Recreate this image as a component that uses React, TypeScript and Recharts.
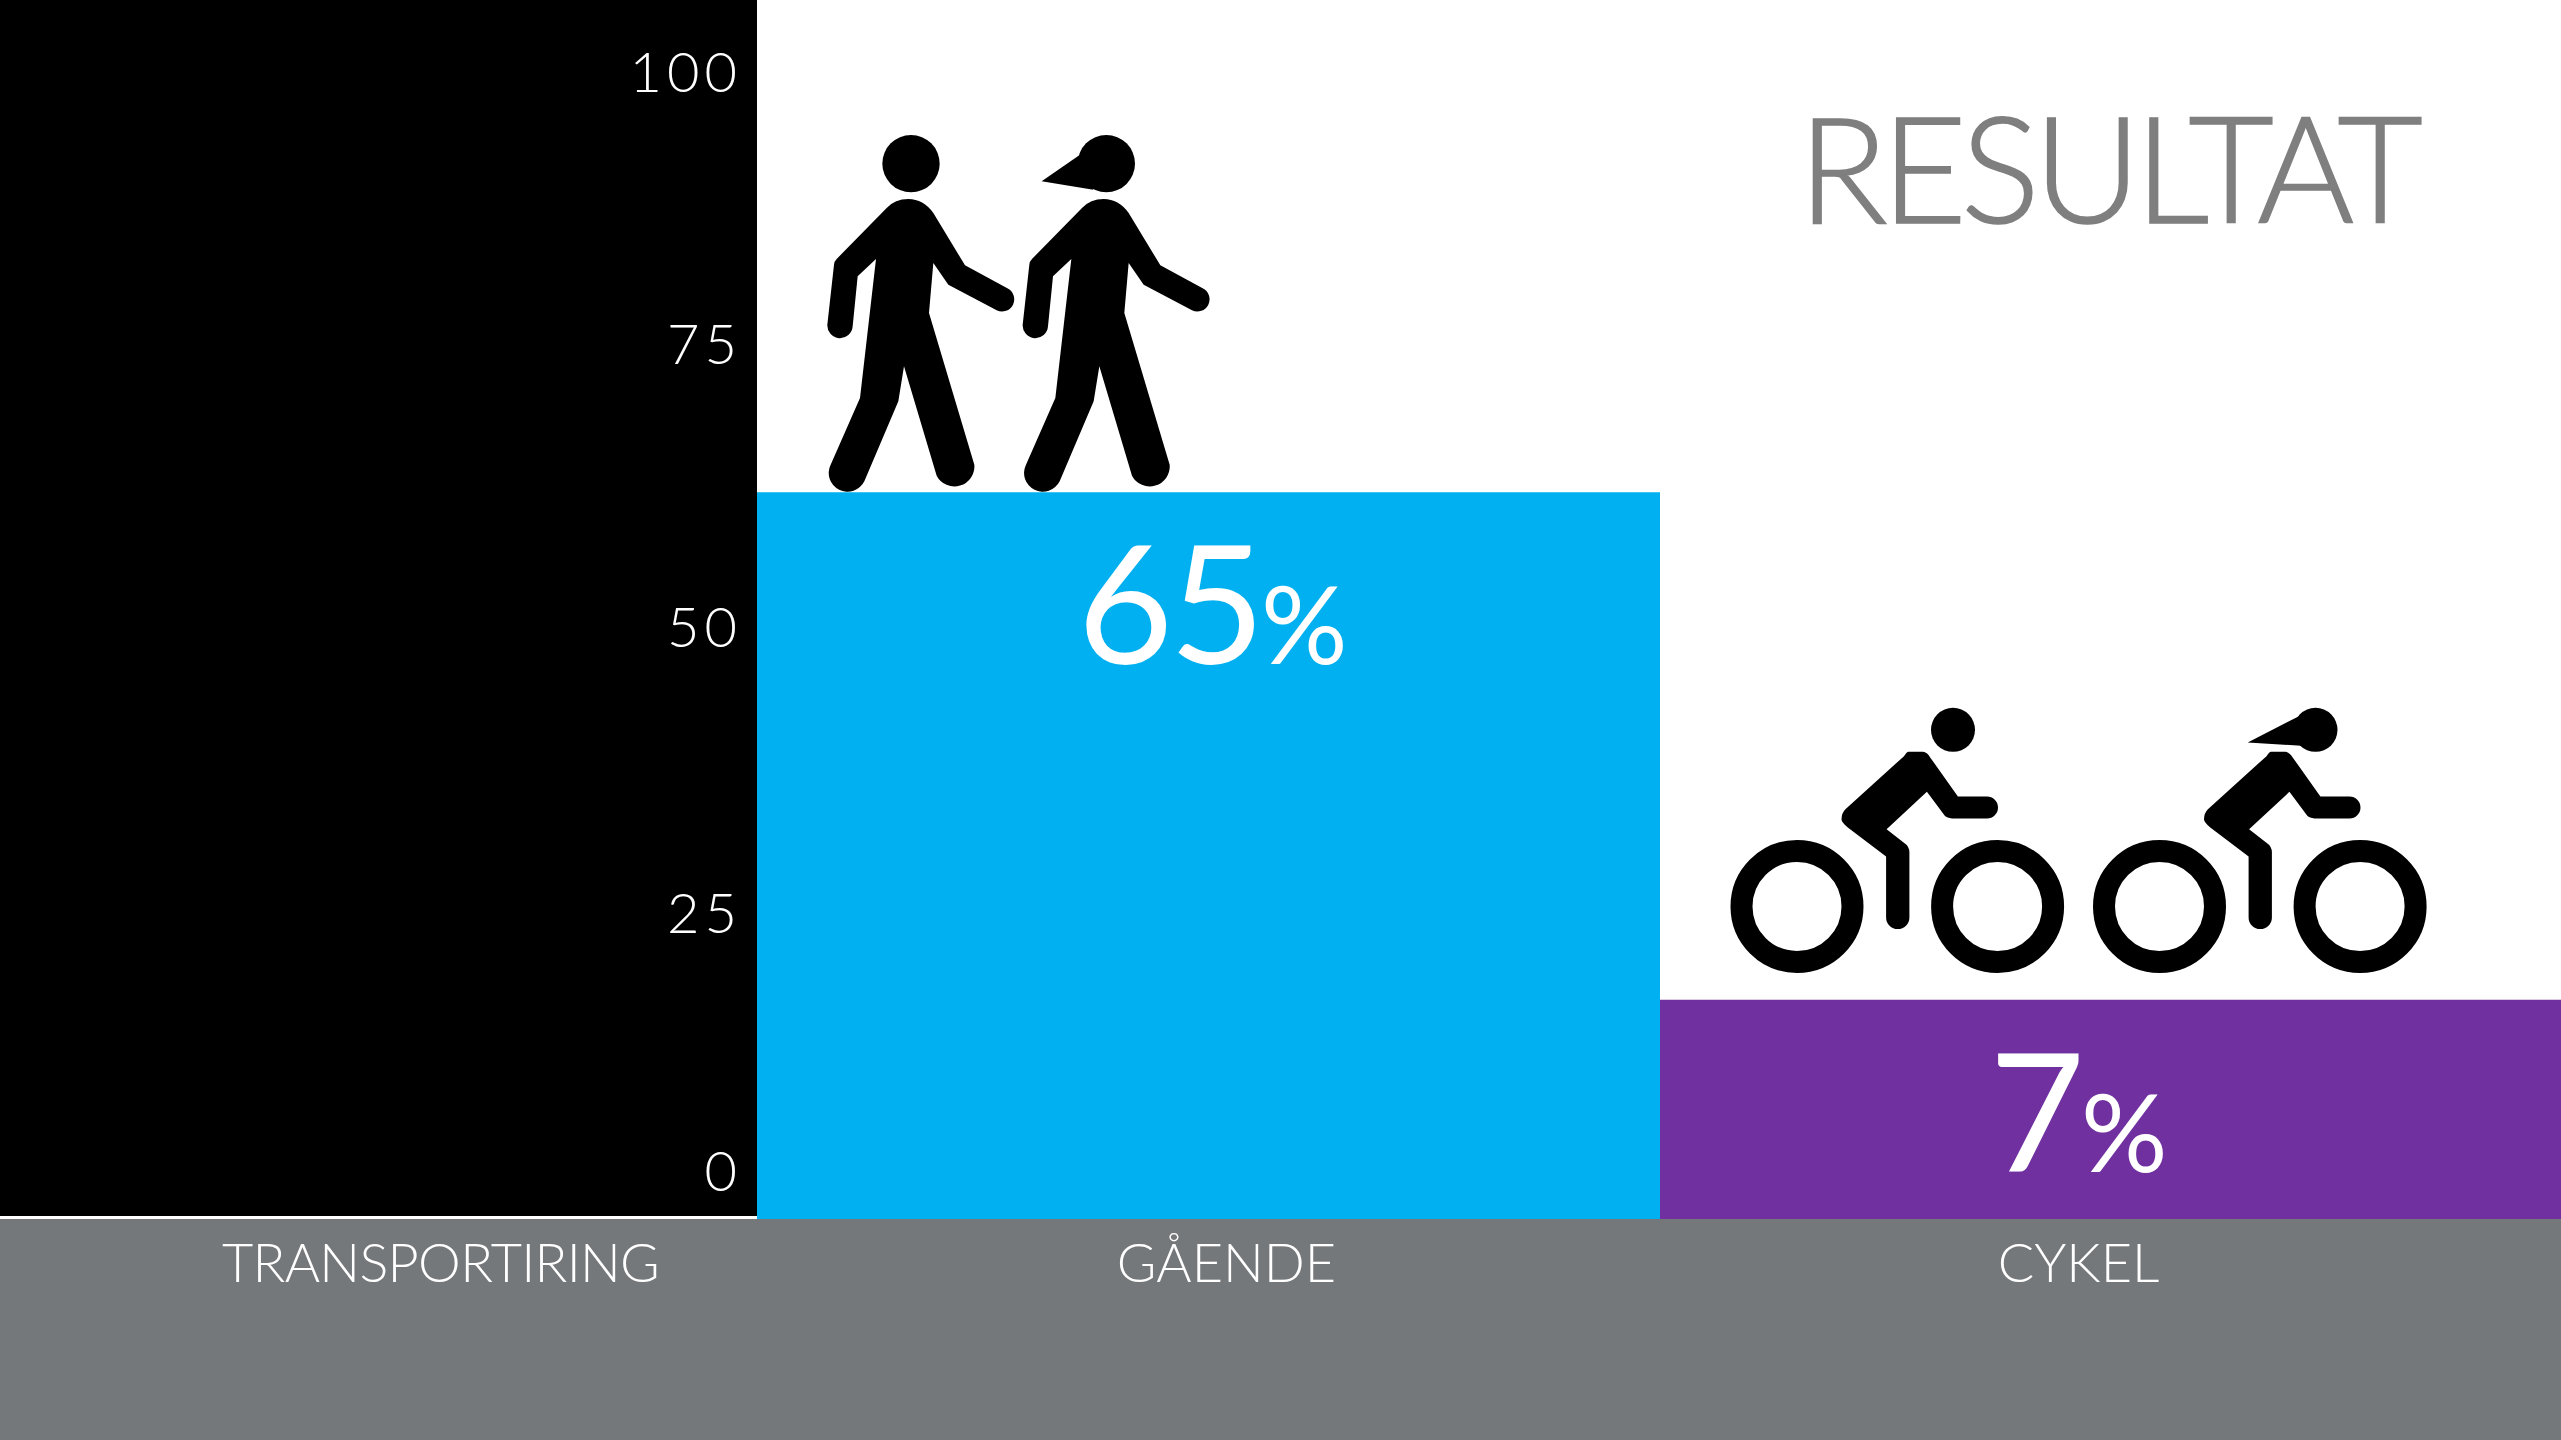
import { BarChart, Bar, Cell, XAxis, YAxis, LabelList } from 'recharts';

const categories = ['GÅENDE', 'CYKEL'];
// the bars do not follow their printed numbers, so drawn tops are read off the axis
const barTops = [61.8, 15.6];
const shareLabels = ['65', '7'];
const barColors = ['#00b0f0', '#7030a0'];
const axisBottom = -4.37;
const axisTop = 106.6;
const tickValues = [0, 23.5, 49.5, 75.3, 100];
const tickLabels = ['0', '25', '50', '75', '100'];

const chartData = categories.map((name, i) => ({
  name,
  range: [axisBottom, barTops[i]],
}));

const FONT = 'Lato, sans-serif';
const GREY = '#75787b';

const WALKER_BODY =
  'M385 298 Q345 298 320 325 L170 478 Q162 486 162 495 L142 675 A38 38 0 0 0 218 680 L233 530 L288 478 L240 895 L152 1095 A55 55 0 0 0 253 1145 L355 905 L372 800 L470 1128 A60 60 0 0 0 583 1095 L447 640 L460 490 L505 555 L650 632 A36 36 0 0 0 682 566 L555 497 L460 340 Q430 298 385 298 Z';

function Walkers({ x, y }: { x: number; y: number }) {
  return (
    <g transform={`translate(${x + 23} ${y - 392.5}) scale(${1 / 3})`} fill="#000">
      <circle cx={393} cy={192} r={86} />
      <path d={WALKER_BODY} />
      <g transform="translate(586 0)">
        <circle cx={393} cy={192} r={86} />
        <polygon points="314,165 199,245 354,270" />
        <path d={WALKER_BODY} />
      </g>
    </g>
  );
}

const RIDER_BODY =
  'M208.4 72.7 L223 72.7 Q227 73 230.2 78.3 L257.9 117.3 L287 117.3 A11 11 0 0 1 287 139.3 L252 139.3 Q247 139 244.8 136.7 L226.9 112.7 L186.6 150 L203.6 163.3 Q209.4 167 209.4 173.3 L209.4 238.3 A11.6 11.6 0 0 1 186.1 238.3 L186.1 177.3 L147.8 148.3 Q141.5 143 141.5 140 Q141.5 134 145.4 130 L204 77 Q207 72.7 208.4 72.7 Z';

function Rider() {
  return (
    <>
      <circle cx={253} cy={50.7} r={22} />
      <path d={RIDER_BODY} />
      <circle cx={97} cy={227.3} r={55.5} fill="none" stroke="#000" strokeWidth={22} />
      <circle cx={297.6} cy={227.3} r={55.5} fill="none" stroke="#000" strokeWidth={22} />
    </>
  );
}

function Riders({ x, y }: { x: number; y: number }) {
  return (
    <g transform={`translate(${x + 40} ${y - 320.5})`} fill="#000">
      <Rider />
      <g transform="translate(362.5 0)">
        <polygon points="236,37.3 185.2,63.3 238.5,66.7" />
        <Rider />
      </g>
    </g>
  );
}

function BarMark(props: any) {
  const { x, y, width, index } = props;
  const nudge = index === 1 ? -33 : 4;
  return (
    <g>
      {index === 0 ? <Walkers x={x} y={y} /> : <Riders x={x} y={y} />}
      <text x={x + width / 2 + nudge} y={y + 172} textAnchor="middle" fill="#fff" fontFamily={FONT} fontWeight={400}>
        <tspan fontSize={165} letterSpacing={-4}>{shareLabels[index]}</tspan>
        <tspan fontSize={108}>%</tspan>
      </text>
    </g>
  );
}

function CategoryTick(props: any) {
  const { x, payload, index } = props;
  const nudge = index === 1 ? -33 : 18;
  return (
    <text x={x + nudge} y={1282} textAnchor="middle" fill="#fff" fontFamily={FONT} fontWeight={300} fontSize={54}>
      {payload.value}
    </text>
  );
}

export default function App() {
  return (
    <div style={{ position: 'absolute', left: 0, top: 0, width: 2561, height: 1440, background: '#fff', overflow: 'hidden' }}>
      <BarChart
        width={2563}
        height={1440}
        data={chartData}
        barCategoryGap={0}
        margin={{ top: 0, right: 0, left: 0, bottom: 0 }}
      >
        <rect x={0} y={0} width={757} height={1216} fill="#000" />
        <rect x={0} y={1219} width={2563} height={221} fill={GREY} />
        <text
          x={1798}
          y={223}
          fill="#7f7f7f"
          stroke="#7f7f7f"
          strokeWidth={1.5}
          fontFamily={FONT}
          fontWeight={300}
          fontSize={148}
          textLength={625}
        >
          RESULTAT
        </text>
        <XAxis
          dataKey="name"
          height={221}
          axisLine={false}
          tickLine={false}
          tick={<CategoryTick />}
          label={{
            value: 'TRANSPORTIRING',
            position: 'insideLeft',
            dx: -540,
            dy: -67,
            fill: '#fff',
            fontFamily: FONT,
            fontWeight: 300,
            fontSize: 54,
            letterSpacing: -0.7,
          }}
        />
        <YAxis
          width={757}
          domain={[axisBottom, axisTop]}
          ticks={tickValues}
          interval={0}
          axisLine={false}
          tickLine={false}
          tickMargin={9}
          tickFormatter={(_v: number, i: number) => tickLabels[i]}
          tick={{ fill: '#fff', fontFamily: FONT, fontWeight: 300, fontSize: 56, letterSpacing: 5 }}
        />
        <Bar dataKey="range" isAnimationActive={false}>
          {chartData.map((d, i) => (
            <Cell key={d.name} fill={barColors[i]} />
          ))}
          <LabelList content={<BarMark />} />
        </Bar>
      </BarChart>
    </div>
  );
}
